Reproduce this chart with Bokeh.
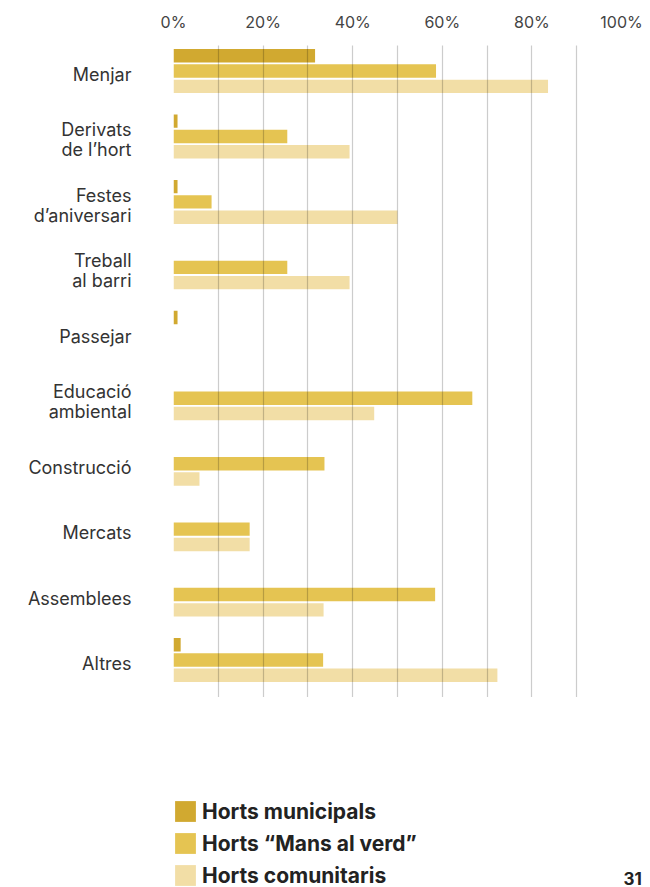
from bokeh.plotting import figure
from bokeh.layouts import column, row
from bokeh.models import Range1d, FixedTicker, Legend, LegendItem, Label, ColumnDataSource
from bokeh.transform import dodge
from bokeh.embed import file_html
from bokeh.resources import INLINE

categories = ["Menjar", "Derivats\nde l’hort", "Festes\nd’aniversari", "Treball\nal barri",
              "Passejar", "Educació\nambiental", "Construcció", "Mercats", "Assemblees", "Altres"]
series_names = ["Horts municipals", "Horts “Mans al verd”", "Horts comunitaris"]
municipals = [31.6, 0.9, 0.9, 0.0, 0.9, 0.0, 0.0, 0.0, 0.0, 1.6]
mans_al_verd = [58.6, 25.4, 8.5, 25.4, 0.0, 66.7, 33.7, 17.0, 58.4, 33.4]
comunitaris = [83.6, 39.3, 50.0, 39.3, 0.0, 44.8, 5.8, 17.0, 33.5, 72.3]
x_ticks = [0, 20, 40, 60, 80, 100]
x_minor = [10, 30, 50, 70, 90]
page_number = "31"

colors = ["#D1A930", "#E5C452", "#F2DEA6"]

src = ColumnDataSource(dict(y=list(range(len(categories))), m=municipals, v=mans_al_verd, c=comunitaris))

p = figure(width=650, height=697, x_range=Range1d(0, 100), y_range=Range1d(9.52, -0.443),
           output_backend="svg", toolbar_location=None, x_axis_location="above",
           min_border_left=173, min_border_right=29, min_border_top=45, min_border_bottom=0)
p.outline_line_color = None
p.background_fill_color = "white"
p.border_fill_color = "white"

mid = -0.053
off = 0.234
h = 0.205
r1 = p.hbar(y=dodge("y", mid - off, range=p.y_range), left=0, right="m", height=h, source=src,
            fill_color=colors[0], line_color=None)
r2 = p.hbar(y=dodge("y", mid, range=p.y_range), left=0, right="v", height=h, source=src,
            fill_color=colors[1], line_color=None)
r3 = p.hbar(y=dodge("y", mid + off, range=p.y_range), left=0, right="c", height=h, source=src,
            fill_color=colors[2], line_color=None)

# x axis
p.xaxis.ticker = FixedTicker(ticks=x_ticks, minor_ticks=x_minor)
p.xaxis.major_label_overrides = {t: f"{t}%" for t in x_ticks}
p.xaxis.axis_line_color = None
p.xaxis.major_tick_line_color = None
p.xaxis.minor_tick_line_color = None
p.xaxis.major_label_standoff = 8
p.xaxis.major_label_text_font = "Inter"
p.xaxis.major_label_text_font_size = "16px"
p.xaxis.major_label_text_color = "#444444"

# y axis
p.yaxis.ticker = FixedTicker(ticks=list(range(len(categories))))
p.yaxis.major_label_overrides = {i: c for i, c in enumerate(categories)}
p.yaxis.axis_line_color = None
p.yaxis.major_tick_line_color = None
p.yaxis.minor_tick_line_color = None
p.yaxis.major_label_standoff = 36
p.yaxis.major_label_text_font = "Inter"
p.yaxis.major_label_text_font_size = "18px"
p.yaxis.major_label_text_color = "#333333"
p.yaxis.major_label_text_line_height = 0.95

# grid
p.ygrid.grid_line_color = None
p.xgrid.grid_line_color = "black"
p.xgrid.grid_line_alpha = 0.2
p.xgrid.grid_line_width = 1.2
p.xgrid.minor_grid_line_color = "black"
p.xgrid.minor_grid_line_alpha = 0.2
p.xgrid.minor_grid_line_width = 1.2
p.xgrid.level = "overlay"

# legend strip below
lf = figure(width=650, height=190, x_range=Range1d(0, 650), y_range=Range1d(-200, -10),
            output_backend="svg", toolbar_location=None,
            min_border_left=0, min_border_right=0, min_border_top=0, min_border_bottom=0)
lf.axis.visible = False
lf.grid.grid_line_color = None
lf.outline_line_color = None
lf.background_fill_color = "white"
lf.border_fill_color = "white"
# hidden renderers of the same data: only their legend swatches show
l1 = lf.hbar(y="y", left=0, right="m", height=h, source=src, fill_color=colors[0], line_color=None, visible=False)
l2 = lf.hbar(y="y", left=0, right="v", height=h, source=src, fill_color=colors[1], line_color=None, visible=False)
l3 = lf.hbar(y="y", left=0, right="c", height=h, source=src, fill_color=colors[2], line_color=None, visible=False)

legend = Legend(items=[LegendItem(label=series_names[0], renderers=[l1]),
                       LegendItem(label=series_names[1], renderers=[l2]),
                       LegendItem(label=series_names[2], renderers=[l3])],
                location=(172, -1), orientation="vertical",
                glyph_width=26, glyph_height=26, label_standoff=4, spacing=6,
                padding=0, margin=0, border_line_color=None, background_fill_alpha=0,
                inactive_fill_alpha=0,
                label_text_font="Inter", label_text_font_size="21px", label_text_font_style="bold",
                label_text_color="#222222", label_height=26)
lf.add_layout(legend, "center")

lab = Label(x=623, y=-197, text=page_number, text_baseline="bottom",
            text_font="Inter", text_font_size="17px", text_font_style="bold", text_color="#222222")
lf.add_layout(lab)

layout = column(p, row(lf), spacing=0)
open("out.html", "w").write(file_html(layout, INLINE))
